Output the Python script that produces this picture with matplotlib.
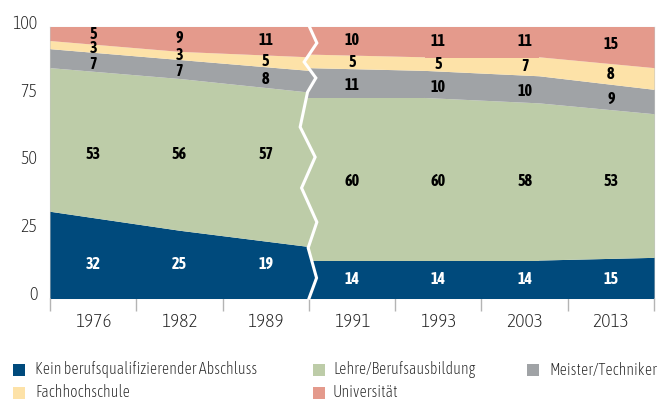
import matplotlib
matplotlib.use("Agg")
import matplotlib.pyplot as plt
import numpy as np
from matplotlib.patches import Polygon, Rectangle
from matplotlib.transforms import ScaledTranslation

plt.rcParams['font.family'] = ['Asap Condensed', 'Liberation Sans', 'DejaVu Sans']

# data
years = ['1976', '1982', '1989', '1991', '1993', '2003', '2013']
kein = [32, 25, 19, 14, 14, 14, 15]
lehre = [53, 56, 57, 60, 60, 58, 53]
meister = [7, 7, 8, 11, 10, 10, 9]
fachhoch = [3, 3, 5, 5, 5, 7, 8]
uni = [5, 9, 11, 10, 11, 11, 15]

names = ['Kein berufsqualifizierender Abschluss', 'Lehre/Berufsausbildung',
         'Meister/Techniker', 'Fachhochschule', 'Universität']
colors = ['#004a7c', '#bdcca8', '#a0a3a6', '#fde2a8', '#e49a8c']
label_colors = ['white', 'black', 'black', 'black', 'black']

series = np.array([kein, lehre, meister, fachhoch, uni], dtype=float)

# white break line between 1989 and 1991 (offset in px, height in %)
zig_dx = [0.7, 8, -4.7, 7, -1.3, -8.7, 6.3, -7.3, 8, -0.7, 7.7, 0.3]
zig_y = [100, 94.1, 87.1, 81.2, 76, 63.1, 52, 40.6, 28, 18.5, 7.4, 0]

fig = plt.figure(figsize=(6.69, 4.01), dpi=100)
ax = fig.add_axes([50/669, 1-298/401, 604/669, 271/401])
ax.set_xlim(0, 7)
ax.set_ylim(0, 100)

px = 7/604.0
zx = 3 + np.array(zig_dx)*px
zy = np.array(zig_y)

left_clip = Polygon([(-1, 105), (zx[0], 105)] + list(zip(zx, zy)) + [(zx[-1], -5), (-1, -5)],
                    closed=True, transform=ax.transData)
right_clip = Polygon([(8, 105), (zx[0], 105)] + list(zip(zx, zy)) + [(zx[-1], -5), (8, -5)],
                     closed=True, transform=ax.transData)

sections = [
    (np.arange(0, 3), np.linspace(0, 3, 3), left_clip, 'right'),
    (np.arange(3, 7), np.linspace(3, 7, 4), right_clip, 'left'),
]

for idx, xs, clip, ext in sections:
    vals = series[:, idx]
    cum = np.vstack([np.zeros(len(idx)), np.cumsum(vals, axis=0)])
    # extend flat past the break so the zigzag can cut it
    if ext == 'right':
        xe = np.append(xs, xs[-1] + 0.15)
        ce = np.hstack([cum, cum[:, -1:]])
    else:
        xe = np.insert(xs, 0, xs[0] - 0.15)
        ce = np.hstack([cum[:, :1], cum])
    for k in range(5):
        pc = ax.fill_between(xe, ce[k], ce[k+1], color=colors[k], lw=0, zorder=3)
        pc.set_clip_path(clip)

    # value labels
    lx = idx + 0.5
    for k in range(5):
        bot = np.interp(lx, xs, cum[k])
        top = np.interp(lx, xs, cum[k+1])
        mid = (bot + top) / 2
        if k < 2:
            mid = np.full(len(lx), mid.mean())
        if k == 2:
            mid = mid - 0.8   # small nudge so the thin-band labels don't collide
        if k == 4:
            mid = mid + 0.4
        for j, i in enumerate(idx):
            ax.text(lx[j], mid[j], '%d' % series[k, i], ha='center', va='center',
                    fontsize=11.5, fontweight='bold', color=label_colors[k], zorder=6)

ax.plot(zx, zy, color='white', lw=2.2, zorder=5, clip_on=False, solid_joinstyle='miter')

# axes styling
for s in ax.spines.values():
    s.set_color('#c4c4c4')
    s.set_linewidth(0.8)
ax.set_yticks([0, 25, 50, 75, 100])
ax.set_yticklabels(['0', '25', '50', '75', '100'])
ax.tick_params(axis='y', length=0, pad=9, labelsize=13, labelcolor='#222222')
for lab in ax.get_yticklabels():
    lab.set_fontweight('light')
    lab.set_transform(lab.get_transform() + ScaledTranslation(0, 5/100, fig.dpi_scale_trans))

ax.set_xticks(np.arange(0, 8))
ax.set_xticklabels([])
ax.tick_params(axis='x', which='major', length=9, width=1, color='#b4b4b4')
ax.set_xticks(np.arange(7) + 0.5, minor=True)
ax.set_xticklabels(years, minor=True)
ax.tick_params(axis='x', which='minor', length=0, pad=11, labelsize=14, labelcolor='#222222')
for lab in ax.get_xticklabels(minor=True):
    lab.set_fontweight('light')

# legend
leg_pos = [(13, 370, 35), (313, 370, 333), (527, 370, 549), (13, 392.5, 35), (313, 392.5, 333)]
for k in range(5):
    sx, sy, tx = leg_pos[k]
    fig.patches.append(Rectangle((sx/669, 1-(sy+6)/401), 12/669, 12/401,
                                 transform=fig.transFigure, color=colors[k], lw=0))
    fig.text(tx/669, 1-sy/401, names[k], ha='left', va='center', fontsize=11.5,
             fontweight='light', color='#222222')

fig.savefig('out.png', dpi=100)
